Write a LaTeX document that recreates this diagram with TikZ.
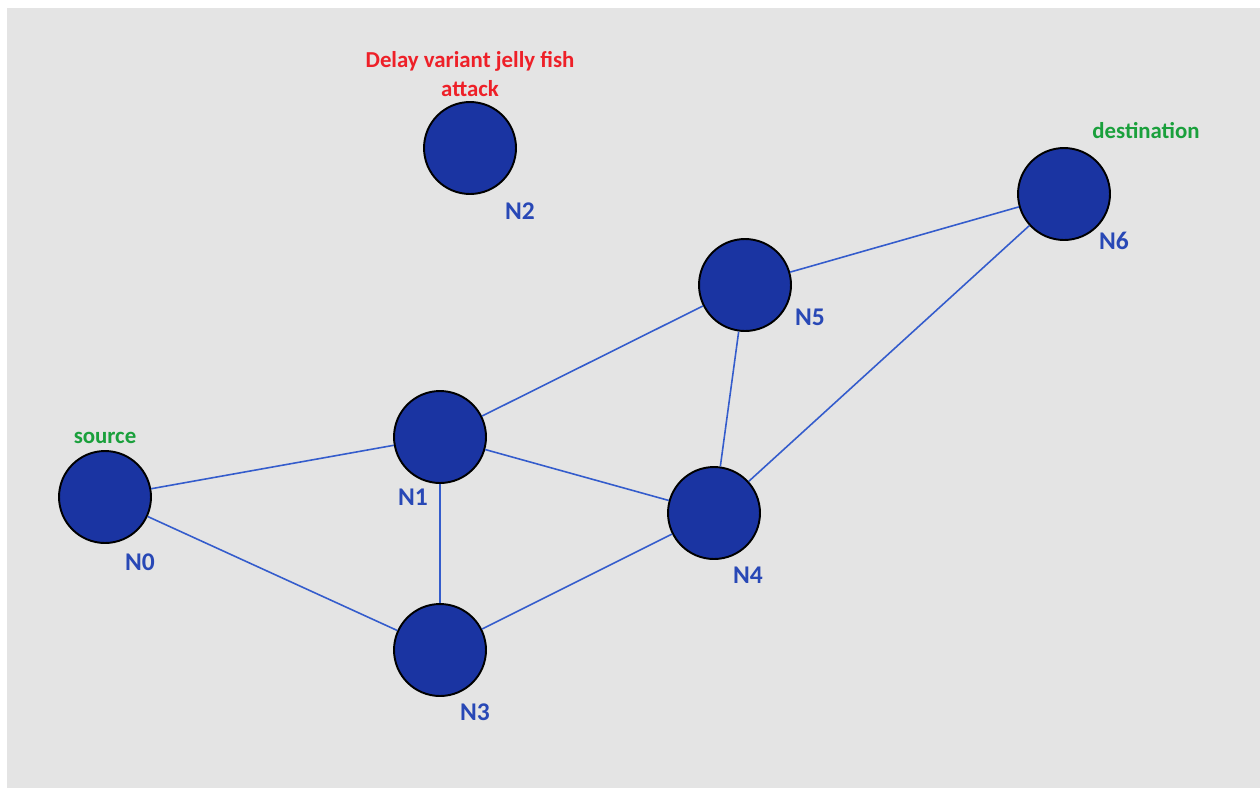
\documentclass[tikz,border=0pt]{standalone}
\usepackage{fontspec}
\setmainfont{Carlito}
\usetikzlibrary{positioning}

\definecolor{panelgray}{RGB}{228,228,228}
\definecolor{hostblue}{RGB}{26,52,162}
\definecolor{linkblue}{RGB}{52,92,204}
\definecolor{tagblue}{RGB}{40,72,182}
\definecolor{taggreen}{RGB}{26,160,60}
\definecolor{tagred}{RGB}{238,32,40}

\begin{document}
\begin{tikzpicture}[
                x=0.02cm, y=-0.02cm,
                host/.style={
                        circle,
                        draw=black,
                        line width=1.1pt,
                        fill=hostblue,
                        minimum size=1.84cm,
                        inner sep=0pt
                    },
                tag/.style={
                        font=\bfseries\fontsize{14.5}{16}\selectfont,
                        text=tagblue,
                        inner sep=0pt
                    },
                note/.style={
                        font=\bfseries\fontsize{13}{16}\selectfont,
                        inner sep=0pt,
                        align=center
                    },
                link/.style={draw=linkblue, line width=0.9pt}
            ]

            % fundo
            \useasboundingbox (0,0) rectangle (1260,788);
            \fill[white] (0,0) rectangle (1260,788);
            \fill[panelgray] (7,8) rectangle (1260,788);

            % nós da rede
            \node[host] (n0) at (105, 497) {};
            \node[host] (n1) at (440, 437) {};
            \node[host] (n2) at (470, 148) {};
            \node[host] (n3) at (440, 650) {};
            \node[host] (n4) at (714, 513) {};
            \node[host] (n5) at (745, 285) {};
            \node[host] (n6) at (1064, 194) {};

            % ligações
            \draw[link] (n0) -- (n1);
            \draw[link] (n0) -- (n3);
            \draw[link] (n1) -- (n3);
            \draw[link] (n1) -- (n4);
            \draw[link] (n1) -- (n5);
            \draw[link] (n3) -- (n4);
            \draw[link] (n5) -- (n4);
            \draw[link] (n4) -- (n6);
            \draw[link] (n5) -- (n6);

            % rótulos dos nós
            \node[tag] (t0) at (140, 562) {N0};
            \node[tag] (t1) at (413, 497) {N1};
            \node[tag] (t2) at (520, 211) {N2};
            \node[tag] (t3) at (475, 712) {N3};
            \node[tag] (t4) at (748, 575) {N4};
            \node[tag] (t5) at (810, 317) {N5};
            \node[tag] (t6) at (1114, 241) {N6};

            % papéis
            \node[note, text=taggreen] (src) at (105, 438) {source};
            \node[note, text=taggreen] (dst) at (1146, 131) {destination};
            \node[note, text=tagred] (atk) at (470, 74) {Delay variant jelly fish\\attack};

        \end{tikzpicture}
\end{document}
